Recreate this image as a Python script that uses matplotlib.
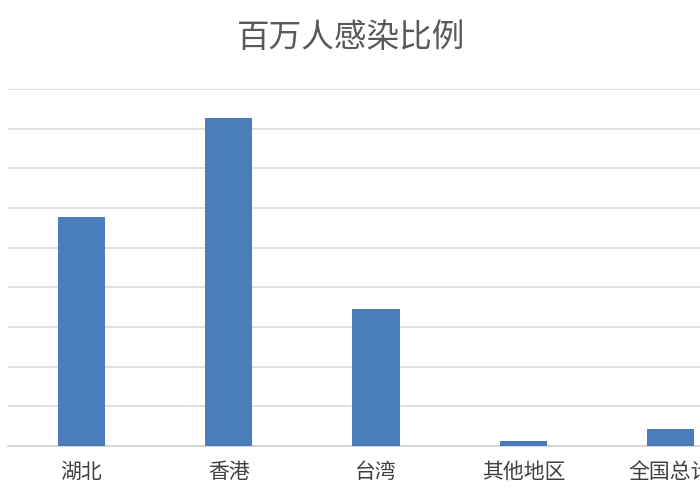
import numpy as np
import matplotlib
matplotlib.use("Agg")
import matplotlib.pyplot as plt

plt.rcParams['font.family'] = ['Noto Sans CJK SC', 'DejaVu Sans']

# data (in gridline units)
regions = ["湖北", "香港", "台湾", "其他地区", "全国总计"]
ratio = [5.77, 8.26, 3.45, 0.12, 0.43]
title = "百万人感染比例"

fig = plt.figure(figsize=(7, 5), dpi=100)
# the original screenshot is cropped on the right, so the axes run past the edge
ax = fig.add_axes([0.0112, 0.108, 1.052, 0.714])

x = np.arange(len(regions))
ax.bar(x, ratio, width=0.32, color="#4a7dbb", zorder=3)

ax.set_xlim(-0.5, len(regions) - 0.5)
ax.set_ylim(0, 9)
ax.set_yticks(np.arange(0, 10))
ax.yaxis.grid(True, color="#d9d9d9", linewidth=1.2, zorder=0)
ax.tick_params(axis="y", left=False, labelleft=False)
ax.tick_params(axis="x", bottom=False, labelsize=15, labelcolor="#404040", pad=7)
ax.set_xticks(x)
ax.set_xticklabels(regions)

for s in ["top", "right", "left"]:
    ax.spines[s].set_visible(False)
ax.spines["bottom"].set_color("#d0d0d0")
ax.spines["bottom"].set_linewidth(1.2)

fig.text(351 / 700, 1 - 38 / 500, title, ha="center", va="center",
         fontsize=23.5, color="#595959")

fig.savefig("out.png", dpi=100)
